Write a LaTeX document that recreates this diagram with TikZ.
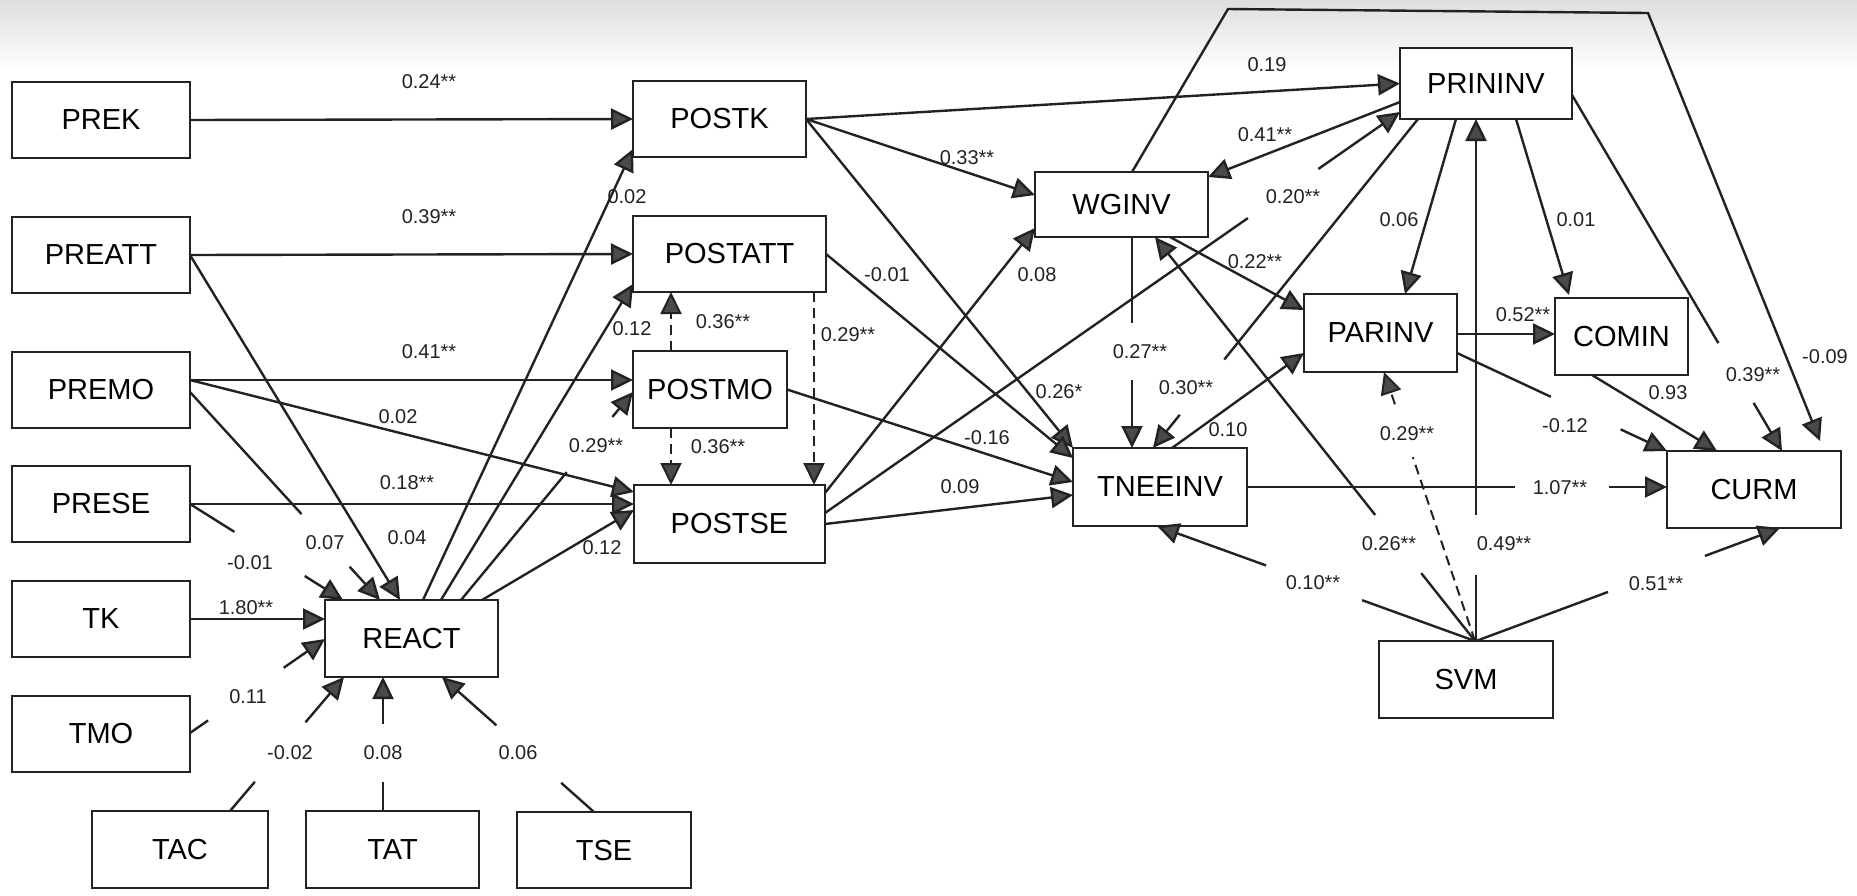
\documentclass[tikz,border=0pt]{standalone}
\usepackage{fontspec}
\setmainfont{Liberation Sans}
\usetikzlibrary{arrows.meta,calc}

\definecolor{ink}{HTML}{222222}
\definecolor{tipfill}{HTML}{4A4A4A}

\tikzset{
  varbox/.style={draw=ink, line width=1.4pt, fill=white, inner sep=0pt, outer sep=0pt,
                 font=\fontsize{14.5}{17}\selectfont},
  conn/.style={draw=ink, line width=1.2pt},
  headed/.style={-{Triangle[length=11pt,width=10.5pt,fill=tipfill]}},
  dashline/.style={line width=1pt, dash pattern=on 5pt off 3pt},
  coef/.style={inner sep=0pt, font=\fontsize{10}{12}\selectfont, text=ink},
}

% variable box given by its corner coordinates (in picture units)
\newcommand{\varbox}[6]{%
  \pgfmathsetmacro{\bw}{(#4-#2)*0.5}%
  \pgfmathsetmacro{\bh}{(#5-#3)*0.5}%
  \node[varbox, minimum width=\bw pt, minimum height=\bh pt] (#1) at ({(#2+#4)/2},{(#3+#5)/2}) {#6};}

% path coefficient
\newcommand{\coef}[3]{\node[coef] (#1) at (#2) {#3};}

% arrow with a gap left open for its coefficient
\newcommand{\gapped}[5][]{%
  \coordinate (g-s) at #2;
  \coordinate (g-e) at #3;
  \draw[conn,#1] (g-s) -- ($(g-s)!#4!(g-e)$);
  \draw[conn,headed,#1] ($(g-s)!#5!(g-e)$) -- (g-e);}

\begin{document}
\begin{tikzpicture}[x=0.5pt,y=-0.5pt]
\useasboundingbox (0,0) rectangle (1857,895);
\shade[top color=black!13, bottom color=white] (0,0) rectangle (1857,70);

% ---------- variables ----------
\varbox{prek}{12}{82}{190}{158}{PREK}
\varbox{preatt}{12}{217}{190}{293}{PREATT}
\varbox{premo}{12}{352}{190}{428}{PREMO}
\varbox{prese}{12}{466}{190}{542}{PRESE}
\varbox{tk}{12}{581}{190}{657}{TK}
\varbox{tmo}{12}{696}{190}{772}{TMO}
\varbox{tac}{92}{811}{268}{888}{TAC}
\varbox{tat}{306}{811}{479}{888}{TAT}
\varbox{tse}{517}{812}{691}{888}{TSE}
\varbox{react}{325}{600}{498}{677}{REACT}
\varbox{postk}{633}{81}{806}{157}{POSTK}
\varbox{postatt}{633}{216}{826}{292}{POSTATT}
\varbox{postmo}{633}{351}{787}{428}{POSTMO}
\varbox{postse}{634}{485}{825}{563}{POSTSE}
\varbox{wginv}{1035}{172}{1208}{237}{WGINV}
\varbox{tneeinv}{1073}{448}{1247}{526}{TNEEINV}
\varbox{prininv}{1400}{48}{1572}{119}{PRININV}
\varbox{parinv}{1304}{294}{1457}{372}{PARINV}
\varbox{comin}{1555}{298}{1688}{375}{COMIN}
\varbox{curm}{1667}{451}{1841}{528}{CURM}
\varbox{svm}{1379}{641}{1553}{718}{SVM}

% ---------- pre-test to post-test ----------
\draw[conn,headed] (prek.east) -- (postk.west);
\draw[conn,headed] (preatt.east) -- (postatt.west);
\draw[conn,headed] ($(premo.east)+(0,-10)$) -- ($(postmo.west)+(0,-9.5)$);
\draw[conn,headed] ($(premo.east)+(0,-10)$) -- ($(postse.west)+(0,-32)$);
\draw[conn,headed] (prese.east) -- ($(postse.west)+(0,-20)$);

% ---------- into REACT ----------
\draw[conn,headed] (preatt.east) -- ($(react.north west)+(75,0)$);
\gapped{($(premo.east)+(0,2)$)}{($(react.north west)+(55,0)$)}{0.587}{0.84}
\gapped{(prese.east)}{($(react.north west)+(18,0)$)}{0.29}{0.75}
\draw[conn,headed] (tk.east) -- (tk.east -| react.west);
\gapped{($(tmo.east)+(0,-1)$)}{($(react.north west)+(0,39)$)}{0.134}{0.694}
\gapped{($(tac.north west)+(138,0)$)}{($(react.south west)+(19,0)$)}{0.218}{0.662}
\gapped{($(tat.north west)+(77,0)$)}{($(react.south west)+(58,0)$)}{0.216}{0.65}
\gapped{($(tse.north west)+(77,0)$)}{($(react.south west)+(117,0)$)}{0.216}{0.642}

% ---------- out of REACT ----------
\draw[conn,headed] ($(react.north west)+(98,0)$) -- ($(postk.south west)+(0,-8)$);
\draw[conn,headed] ($(react.north west)+(116,0)$) -- ($(postatt.south west)+(0,-8)$);
\gapped{($(react.north west)+(136,0)$)}{($(postmo.west)+(0,2.5)$)}{0.615}{0.88}
\draw[conn,headed] ($(react.north east)+(-16,0)$) -- ($(postse.west)+(0,-14)$);

% ---------- among post-test variables ----------
\draw[conn,headed,dashline] ($(postmo.north west)+(38,0)$) -- ($(postatt.south west)+(38,0)$);
\draw[conn,headed,dashline] ($(postmo.south west)+(38,0)$) -- ($(postse.north west)+(37,0)$);
\draw[conn,headed,dashline] ($(postatt.south west)+(181,0)$) -- ($(postse.north west)+(180,0)$);

% ---------- post-test to involvement ----------
\draw[conn,headed] (postk.east) -- (prininv.west);
\draw[conn,headed] (postk.east) -- ($(wginv.north west)+(0,23)$);
\draw[conn,headed] (postk.east) -- (tneeinv.north west);
\draw[conn,headed] (postatt.east) -- ($(tneeinv.north west)+(0,10)$);
\draw[conn,headed] (postmo.east) -- ($(tneeinv.west)+(0,-5)$);
\draw[conn,headed] (postse.east) -- ($(tneeinv.west)+(0,8)$);
\draw[conn,headed] ($(postse.north east)+(0,8)$) -- ($(wginv.south west)+(0,-9)$);
\gapped{($(postse.east)+(0,-11)$)}{($(prininv.south west)+(0,-7)$)}{0.7355}{0.858}

% ---------- among involvement variables ----------
\gapped{($(wginv.south west)+(97,0)$)}{($(tneeinv.north west)+(59,0)$)}{0.408}{0.678}
\gapped{($(prininv.south west)+(18,0)$)}{($(tneeinv.north west)+(80,0)$)}{0.731}{0.899}
\draw[conn,headed] ($(prininv.west)+(0,18.5)$) -- ($(wginv.north east)+(0,5)$);
\draw[conn,headed] ($(wginv.south west)+(135,0)$) -- ($(parinv.north west)+(0,16)$);
\draw[conn,headed] ($(tneeinv.north west)+(99,0)$) -- ($(parinv.south west)+(0,-19)$);
\draw[conn,headed] ($(prininv.south west)+(56,0)$) -- ($(parinv.north west)+(101,0)$);
\draw[conn,headed] ($(prininv.south west)+(116,0)$) -- ($(comin.north west)+(14,-3)$);
\draw[conn,headed] ($(parinv.east)+(0,1)$) -- ($(comin.west)+(0,-2.5)$);

% WGINV over the top to CURM
\coordinate (loopL) at (1228,9);
\coordinate (loopR) at (1648,13);
\draw[conn,headed] ($(wginv.north west)+(97,0)$) -- (loopL) -- (loopR) -- ($(curm.north west)+(153,-10)$);

% ---------- SVM ----------
\gapped{($(svm.north west)+(96,0)$)}{($(wginv.south west)+(120,0)$)}{0.168}{0.312}
\gapped{($(svm.north west)+(96,0)$)}{($(tneeinv.south west)+(84,0)$)}{0.355}{0.657}
\gapped[dashline]{($(svm.north west)+(96,0)$)}{($(parinv.south west)+(80,0)$)}{0.683}{0.88}
\gapped{($(svm.north west)+(97,0)$)}{($(prininv.south west)+(76,0)$)}{0.126}{0.241}
\gapped{($(svm.north west)+(97,0)$)}{($(curm.south west)+(113,0)$)}{0.434}{0.753}

% ---------- into CURM ----------
\gapped{(tneeinv.east)}{(tneeinv.east -| curm.west)}{0.638}{0.862}
\gapped{($(parinv.east)+(0,20)$)}{(curm.north west)}{0.447}{0.779}
\draw[conn,headed] ($(comin.south west)+(37,0)$) -- ($(curm.north west)+(50,0)$);
\gapped{($(prininv.east)+(0,11.5)$)}{($(curm.north west)+(115,0)$)}{0.697}{0.865}

% ---------- coefficients ----------
\coef{c1}{429,82}{0.24**}
\coef{c2}{429,217}{0.39**}
\coef{c3}{429,352}{0.41**}
\coef{c4}{398,417}{0.02}
\coef{c5}{407,483}{0.18**}
\coef{c6}{602,548}{0.12}
\coef{c7}{596,446}{0.29**}
\coef{c8}{632,329}{0.12}
\coef{c9}{627,197}{0.02}
\coef{c10}{407,538}{0.04}
\coef{c11}{325,543}{0.07}
\coef{c12}{250,563}{-0.01}
\coef{c13}{246,608}{1.80**}
\coef{c14}{248,697}{0.11}
\coef{c15}{290,753}{-0.02}
\coef{c16}{383,753}{0.08}
\coef{c17}{518,753}{0.06}
\coef{c18}{723,322}{0.36**}
\coef{c19}{718,447}{0.36**}
\coef{c20}{848,335}{0.29**}
\coef{c21}{1267,65}{0.19}
\coef{c22}{967,158}{0.33**}
\coef{c23}{1059,392}{0.26*}
\coef{c24}{887,275}{-0.01}
\coef{c25}{987,438}{-0.16}
\coef{c26}{960,487}{0.09}
\coef{c27}{1037,275}{0.08}
\coef{c28}{1293,197}{0.20**}
\coef{c29}{1140,352}{0.27**}
\coef{c30}{1186,388}{0.30**}
\coef{c31}{1265,135}{0.41**}
\coef{c32}{1825,357}{-0.09}
\coef{c33}{1255,262}{0.22**}
\coef{c34}{1389,544}{0.26**}
\coef{c35}{1313,583}{0.10**}
\coef{c36}{1407,434}{0.29**}
\coef{c37}{1504,544}{0.49**}
\coef{c38}{1656,584}{0.51**}
\coef{c39}{1560,488}{1.07**}
\coef{c40}{1228,430}{0.10}
\coef{c41}{1399,220}{0.06}
\coef{c42}{1576,220}{0.01}
\coef{c43}{1523,315}{0.52**}
\coef{c44}{1565,426}{-0.12}
\coef{c45}{1668,393}{0.93}
\coef{c46}{1753,375}{0.39**}
\end{tikzpicture}
\end{document}
